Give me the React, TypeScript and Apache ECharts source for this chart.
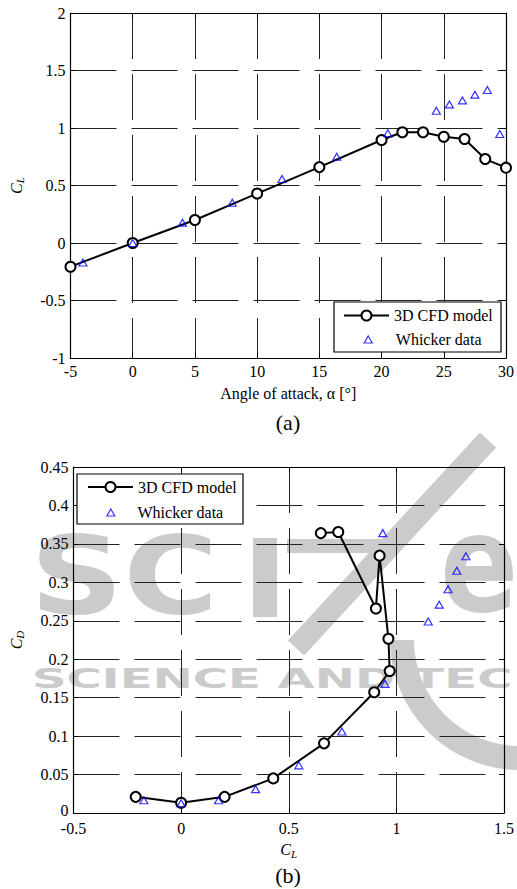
import React, { useEffect, useRef } from 'react';
import * as echarts from 'echarts';

// ---- Data ----
const alphaCFD = [-5, 0, 5, 10, 15, 20, 21.67, 23.33, 25, 26.67, 28.33, 30];
const clCFD = [-0.206, 0, 0.2, 0.43, 0.66, 0.896, 0.963, 0.963, 0.924, 0.904, 0.73, 0.655];
const alphaWhicker = [-4, 0, 4, 8, 12, 16.4, 20.5, 24.4, 25.45, 26.5, 27.5, 28.5, 29.5];
const clWhicker = [-0.17, 0, 0.177, 0.35, 0.557, 0.75, 0.954, 1.15, 1.205, 1.24, 1.29, 1.33, 0.948];

const polarClCFD = [-0.211, 0, 0.202, 0.428, 0.664, 0.897, 0.969, 0.963, 0.922, 0.905, 0.73, 0.649];
const polarCdCFD = [0.021, 0.0134, 0.021, 0.045, 0.0906, 0.157, 0.1847, 0.2267, 0.3347, 0.266, 0.3655, 0.364];
const polarClWhicker = [-0.173, 0, 0.174, 0.346, 0.547, 0.747, 0.947, 1.148, 1.199, 1.24, 1.281, 1.323, 0.937];
const polarCdWhicker = [0.0165, 0.0126, 0.0165, 0.031, 0.062, 0.106, 0.168, 0.249, 0.271, 0.291, 0.315, 0.334, 0.364];

const seriesNames = ['3D CFD model', 'Whicker data'];
const xNameTop = 'Angle of attack, \u03b1 [\u00b0]';
const captions = ['(a)', '(b)'];
const watermarkTexts = ['SC', 'e', 'SCIENCE AND TEC'];

const FONT = '"Liberation Serif", "Times New Roman", serif';
const WM_FONT = '"DejaVu Sans", sans-serif';
const WM = '#cbcbcb';

const zip = (a: number[], b: number[]) => a.map((v, i) => [v, b[i]]);

const richName = {
  i: { fontFamily: FONT, fontStyle: 'italic', fontSize: 16, color: '#000' },
  s: { fontFamily: FONT, fontStyle: 'italic', fontSize: 11, color: '#000', padding: [8, 0, 0, 0] },
};

const splitLine = { show: true, lineStyle: { color: '#222', width: 1, type: [46, 15] } };
const axisLine = { show: true, onZero: false, lineStyle: { color: '#000', width: 1.2 } };
const axisTick = { show: true, inside: true, length: 5, lineStyle: { color: '#000', width: 1 } };
const axisLabel = { fontFamily: FONT, fontSize: 16, color: '#000', lineHeight: 13 };

function mainX(gridIndex: number, min: number, max: number, interval: number, name: string, nameGap: number, margin: number) {
  return {
    type: 'value', gridIndex, min, max, interval, position: 'bottom',
    name, nameLocation: 'middle', nameGap,
    nameTextStyle: { fontFamily: FONT, fontSize: 16, color: '#000', rich: richName },
    axisLine, axisTick, splitLine,
    axisLabel: { ...axisLabel, margin },
  };
}
function mainY(gridIndex: number, min: number, max: number, interval: number, name: string, nameGap: number, liftZero: boolean) {
  return {
    type: 'value', gridIndex, min, max, interval, position: 'left',
    name, nameLocation: 'middle', nameGap, nameRotate: 90,
    nameTextStyle: { fontFamily: FONT, fontSize: 16, color: '#000', rich: richName },
    axisLine, axisTick, splitLine,
    axisLabel: {
      ...axisLabel, margin: 5,
      formatter: (v: number) => (liftZero && v === min ? '{z|' + v + '}' : String(v)),
      rich: { z: { fontFamily: FONT, fontSize: 16, color: '#000', padding: [0, 0, 6, 0] } },
    },
  };
}
function sideAxis(gridIndex: number, min: number, max: number, interval: number, position: string) {
  return {
    type: 'value', gridIndex, min, max, interval, position,
    axisLine, axisTick, splitLine: { show: false }, axisLabel: { show: false },
  };
}

const cfdStyle = {
  type: 'line', symbol: 'emptyCircle', symbolSize: 10, clip: false,
  lineStyle: { color: '#000', width: 2 },
  itemStyle: { color: '#000', borderColor: '#000', borderWidth: 2 },
  z: 3,
};
const whickerStyle = {
  type: 'scatter', symbol: 'triangle', symbolSize: [8, 7], clip: false,
  itemStyle: { color: 'none', borderColor: '#0000ff', borderWidth: 1.2 },
  z: 4,
};

function legendCFD(left: number, top: number) {
  return {
    data: [seriesNames[0]], left, top, orient: 'vertical', padding: 0,
    itemWidth: 45, itemHeight: 12.5, itemGap: 0, selectedMode: false,
    textStyle: { fontFamily: FONT, fontSize: 16, color: '#000' },
    z: 6,
  };
}
function legendWhicker(left: number, top: number, textPad: number) {
  return {
    data: [seriesNames[1]], left, top, orient: 'vertical', padding: 0,
    itemWidth: 8, itemHeight: 7, itemGap: 0, selectedMode: false,
    itemStyle: { borderWidth: 1.2 },
    textStyle: { fontFamily: FONT, fontSize: 16, color: '#000', padding: [0, 0, 0, textPad] },
    z: 6,
  };
}

export default function App() {
  const ref = useRef<HTMLDivElement>(null);
  useEffect(() => {
    document.body.style.margin = '0';
    const chart = echarts.init(ref.current!, undefined, { renderer: 'svg' });
    const wmText = (text: string, x: number, y: number, fontSize: number, scaleX: number) => ({
      type: 'text', z: -5, x, y, scaleX, silent: true,
      style: { text, fontFamily: WM_FONT, fontWeight: 'bold', fontSize, fill: WM, textAlign: 'left', textVerticalAlign: 'bottom' },
    });
    const option: any = {
      animation: false,
      backgroundColor: '#fff',
      grid: [
        { left: 69, top: 13, width: 438, height: 345, show: false },
        { left: 69, top: 467, width: 438, height: 346, show: false },
      ],
      xAxis: [
        mainX(0, -5, 30, 5, xNameTop, 27, 7),
        sideAxis(0, -5, 30, 5, 'top'),
        mainX(1, -0.5, 1.5, 0.5, '{i|C}{s|L}', 27, 9),
        sideAxis(1, -0.5, 1.5, 0.5, 'top'),
      ],
      yAxis: [
        mainY(0, -1, 2, 0.5, '{i|C}{s|L}', 45, false),
        sideAxis(0, -1, 2, 0.5, 'right'),
        mainY(1, 0, 0.45, 0.05, '{i|C}{s|D}', 48, true),
        sideAxis(1, 0, 0.45, 0.05, 'right'),
      ],
      legend: [
        legendCFD(343, 307.5),
        legendWhicker(361.7, 331.5, 18.6),
        legendCFD(87, 479),
        legendWhicker(104.3, 504.5, 17.7),
      ],
      graphic: [
        // faint publisher watermark behind the lower chart
        wmText(watermarkTexts[0], 30, 629, 108, 1.2),
        { type: 'rect', z: -5, silent: true, shape: { x: 253, y: 538, width: 24, height: 79 }, style: { fill: WM } },
        { type: 'rect', z: -5, silent: true, shape: { x: 287, y: 539, width: 95, height: 14 }, style: { fill: WM } },
        { type: 'line', z: -5, silent: true, shape: { x1: 296, y1: 648, x2: 488, y2: 440 }, style: { stroke: WM, lineWidth: 22 } },
        wmText(watermarkTexts[1], 440, 632, 136, 0.85),
        wmText(watermarkTexts[2], 32, 692, 27, 1.78),
        { type: 'arc', z: -5, silent: true, shape: { cx: 520, cy: 640, r: 118, startAngle: Math.PI / 2, endAngle: Math.PI, clockwise: true }, style: { stroke: WM, lineWidth: 24, fill: 'none' } },
        // legend boxes
        { type: 'rect', z: 5, shape: { x: 334, y: 302, width: 167, height: 50 }, style: { fill: '#fff', stroke: '#000', lineWidth: 1.2 } },
        { type: 'rect', z: 5, shape: { x: 77, y: 474, width: 166, height: 50 }, style: { fill: '#fff', stroke: '#000', lineWidth: 1.2 } },
        // captions
        { type: 'text', z: 5, x: 288, y: 422, style: { text: captions[0], fontFamily: FONT, fontSize: 22, fill: '#000', textAlign: 'center', textVerticalAlign: 'middle' } },
        { type: 'text', z: 5, x: 288, y: 875, style: { text: captions[1], fontFamily: FONT, fontSize: 22, fill: '#000', textAlign: 'center', textVerticalAlign: 'middle' } },
      ],
      series: [
        { ...cfdStyle, name: seriesNames[0], xAxisIndex: 0, yAxisIndex: 0, data: zip(alphaCFD, clCFD) },
        { ...whickerStyle, name: seriesNames[1], xAxisIndex: 0, yAxisIndex: 0, data: zip(alphaWhicker, clWhicker) },
        { ...cfdStyle, name: seriesNames[0], xAxisIndex: 2, yAxisIndex: 2, data: zip(polarClCFD, polarCdCFD) },
        { ...whickerStyle, name: seriesNames[1], xAxisIndex: 2, yAxisIndex: 2, data: zip(polarClWhicker, polarCdWhicker) },
      ],
    };
    chart.setOption(option);
    return () => chart.dispose();
  }, []);
  return <div ref={ref} style={{ width: 517, height: 889 }} />;
}
